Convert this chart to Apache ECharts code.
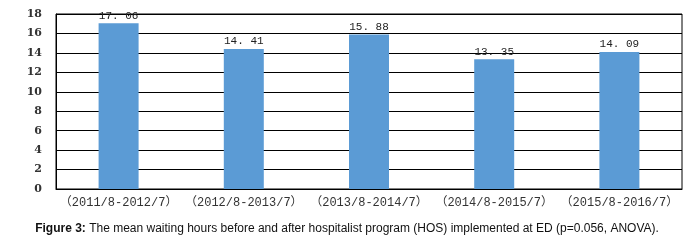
<!DOCTYPE html>
<html>
<head>
<meta charset="utf-8">
<script src="https://cdn.jsdelivr.net/npm/echarts@6/dist/echarts.min.js"></script>
<style>
  html, body { margin: 0; padding: 0; background: #fff; }
  #chart { width: 694px; height: 242px; }
</style>
</head>
<body>
<div id="chart"></div>
<script>
const periods = ['（2011/8-2012/7）', '（2012/8-2013/7）', '（2013/8-2014/7）', '（2014/8-2015/7）', '（2015/8-2016/7）']
const waitHours = [17.06, 14.41, 15.88, 13.35, 14.09]
const yTicks = { min: 0, max: 18, step: 2 }

const serif = '"DejaVu Serif", "Liberation Serif", serif'
const mono = '"Liberation Mono", "Noto Sans CJK SC", monospace'
const sans = '"Liberation Sans", Arial, sans-serif'

const chart = echarts.init(document.getElementById('chart'))
chart.setOption({
  animation: false,
  title: {
    text: '{b|Figure 3:}{n| The mean waiting hours before and after hospitalist program (HOS) implemented at ED (p=0.056, ANOVA).}',
    left: 'center',
    top: 218,
    textStyle: {
      rich: {
        b: { fontFamily: sans, fontWeight: 'bold', fontSize: 12, color: '#111' },
        n: { fontFamily: sans, fontWeight: 'normal', fontSize: 12, color: '#111' }
      }
    }
  },
  grid: {
    left: 56,
    right: 12,
    top: 14,
    bottom: 53,
    show: true,
    borderColor: '#000',
    borderWidth: 1,
    containLabel: false
  },
  xAxis: {
    type: 'category',
    data: periods,
    axisLine: { lineStyle: { color: '#000', width: 1 } },
    axisTick: { show: false },
    axisLabel: {
      interval: 0,
      margin: 8,
      fontFamily: mono,
      fontSize: 12,
      color: '#333'
    }
  },
  yAxis: {
    type: 'value',
    min: yTicks.min,
    max: yTicks.max,
    interval: yTicks.step,
    axisLine: { show: true, lineStyle: { color: '#000', width: 1 } },
    axisTick: { show: false },
    splitLine: { lineStyle: { color: '#000', width: 1 } },
    axisLabel: {
      margin: 14,
      fontFamily: serif,
      fontSize: 11,
      fontWeight: 'bold',
      color: '#333'
    }
  },
  series: [{
    type: 'bar',
    data: waitHours,
    barWidth: 40,
    itemStyle: { color: '#5B9BD5' },
    label: {
      show: true,
      position: 'top',
      distance: 2,
      fontFamily: mono,
      fontSize: 11,
      color: '#222',
      formatter: p => p.value.toFixed(2).replace('.', '. ')
    }
  }]
})
</script>
</body>
</html>
